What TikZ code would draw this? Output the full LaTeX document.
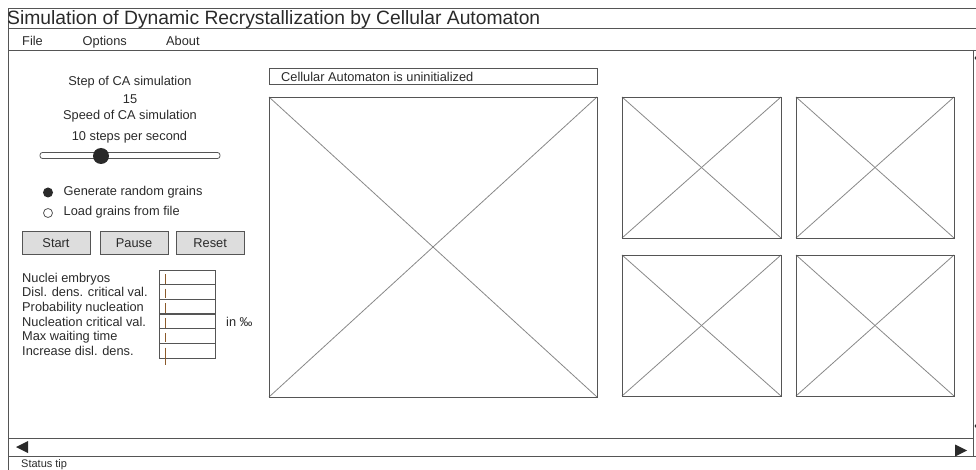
\documentclass[tikz,border=0pt]{standalone}
\usepackage{fontspec}
\setmainfont{Liberation Sans}
\definecolor{txtc}{HTML}{2A2A2A}
\definecolor{linec}{HTML}{555555}
\definecolor{diagc}{HTML}{888888}
\definecolor{btnc}{HTML}{DDDDDD}
\definecolor{curc}{HTML}{8B5A2B}
\begin{document}
\begin{tikzpicture}[x=1pt,y=-1pt,
  txt/.style={font=\fontsize{12.8}{14}\selectfont, text=txtc, inner sep=0pt},
  frame/.style={draw=linec, line width=0.8pt},
  btn/.style={draw=linec, line width=0.8pt, fill=btnc},
  ph/.style={draw=linec, line width=0.8pt},
  diag/.style={draw=diagc, line width=0.8pt},
  inbox/.style={draw=linec, line width=0.7pt},
  cursor/.style={draw=curc, line width=0.8pt}]
\useasboundingbox (0,0) rectangle (976,470);
% window frame
\draw[frame] (976,8) -- (8,8) -- (8,472);
\draw[frame] (8,28) -- (976,28);
\draw[frame] (8,50) -- (976,50);
\draw[frame] (973,50) -- (973,457);
\draw[frame] (8,438) -- (973,438);
\draw[frame] (8,456.5) -- (976,456.5);
% vertical scrollbar marks (cut off)
\fill[txtc] (974.5,58) -- (976,56) -- (976,60) -- cycle;
\fill[txtc] (974.5,426) -- (976,428) -- (976,424) -- cycle;
% horizontal scrollbar arrows
\fill[txtc] (16,447) -- (28,441) -- (28,453) -- cycle;
\fill[txtc] (967,450.5) -- (955,444.5) -- (955,456.5) -- cycle;
% title and menu
\node[txt, font=\fontsize{19.3}{21}\selectfont, anchor=base west] (title) at (7,24.8) {Simulation of Dynamic Recrystallization by Cellular Automaton};
\node[txt, anchor=base west] (mfile) at (22,45.5) {File};
\node[txt, anchor=base west] (mopt) at (82.5,45.5) {Options};
\node[txt, anchor=base west] (mabout) at (166,45.5) {About};
% left panel
\node[txt, anchor=base] (stepl) at (130,85.2) {Step of CA simulation};
\node[txt, anchor=base] (stepv) at (130,103.2) {15};
\node[txt, anchor=base] (speedl) at (130,120) {Speed of CA simulation};
\node[txt, anchor=base] (speedv) at (129.5,140.7) {10 steps per second};
\draw[draw=linec, line width=0.8pt, fill=white, rounded corners=2.5pt] (40,152.5) rectangle (220,158.5);
\node[circle, fill=txtc, minimum size=16pt, inner sep=0pt] (knob) at (101,156) {};
\node[circle, fill=txtc, minimum size=10pt, inner sep=0pt] (rad1) at (48,192.5) {};
\node[circle, draw=linec, line width=0.8pt, minimum size=9pt, inner sep=0pt] (rad2) at (48,213) {};
\node[txt, anchor=base west] (rad1l) at (63.5,195.5) {Generate random grains};
\node[txt, anchor=base west] (rad2l) at (63.5,215.8) {Load grains from file};
% buttons
\draw[btn] (22,231.5) rectangle (90,254);
\draw[btn] (100,231.5) rectangle (168,254);
\draw[btn] (176,231.5) rectangle (244.5,254);
\node[txt, anchor=base] (bstart) at (56,247.7) {Start};
\node[txt, anchor=base] (bpause) at (134,247.7) {Pause};
\node[txt, anchor=base] (breset) at (210.2,247.7) {Reset};
% parameter labels
\foreach \i/\t in {0/Nuclei embryos,1/Disl. dens. critical val.,2/Probability nucleation,3/Nucleation critical val.,4/Max waiting time,5/Increase disl. dens.}{
  \node[txt, anchor=base west] (lab\i) at (22,282+14.7*\i) {\t};
  \draw[inbox] (159,270+14.7*\i) rectangle (215,284.7+14.7*\i);
  \draw[cursor] (165,274+14.7*\i) -- (165,283.5+14.7*\i);
}
\draw[cursor] (165,355) -- (165,365);
\draw[draw=linec, line width=1.3pt] (159,314.1) -- (215,314.1);
\node[txt, anchor=base west] (perm) at (226,326.3) {in ‰};
% status line
\draw[frame] (269,68) rectangle (597,84);
\node[txt, anchor=base west] (status) at (281,81.4) {Cellular Automaton is uninitialized};
% placeholders
\foreach \n/\xa/\ya/\xb/\yb in {big/269/97/597/397, p1/622/97/781/238, p2/796/97/954/238, p3/622/255/781/396, p4/796/255/954/396}{
  \coordinate (\n a) at (\xa,\ya);
  \coordinate (\n b) at (\xb,\yb);
  \draw[diag] (\n a) -- (\n b);
  \draw[diag] (\xa,\yb) -- (\xb,\ya);
  \draw[ph] (\n a) rectangle (\n b);
}
% status bar
\node[txt, font=\fontsize{11}{13}\selectfont, anchor=base west] (tip) at (21,467.5) {Status tip};
\end{tikzpicture}
\end{document}
